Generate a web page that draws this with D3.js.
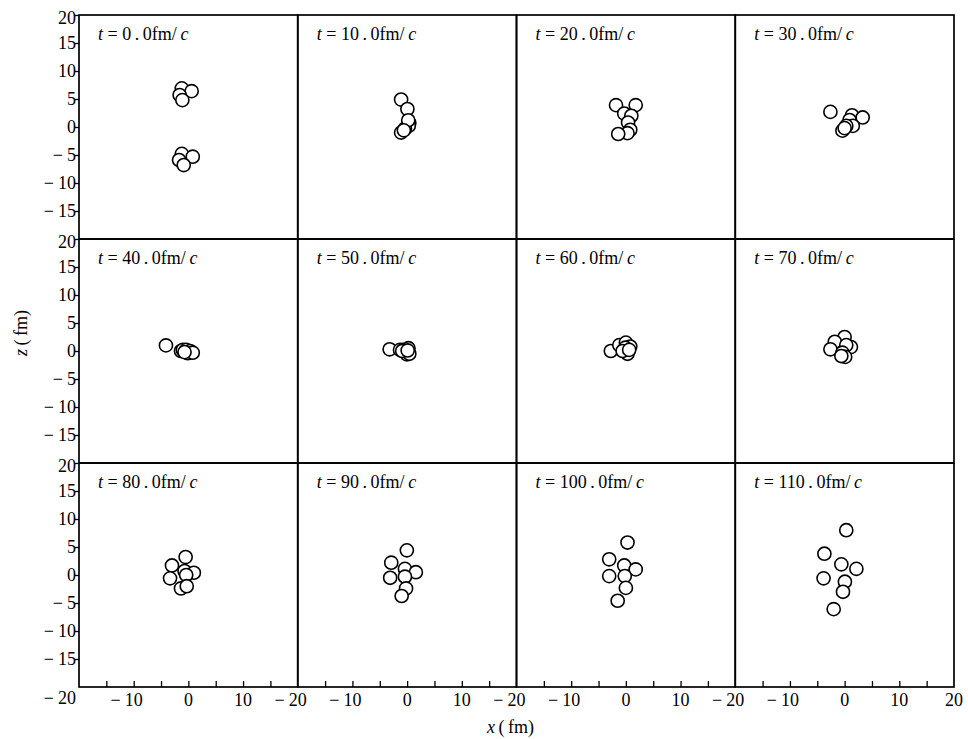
<!DOCTYPE html>
<html>
<head>
<meta charset="utf-8">
<script src="https://cdn.jsdelivr.net/npm/d3@7"></script>
<style>
  body { margin: 0; background: #fff; }
  svg text { font-family: "Liberation Serif", "Times New Roman", "DejaVu Serif", serif; fill: #000; }
</style>
</head>
<body>
<div id="chart"></div>
<script>
// tiempos de cada instantánea (fm/c)
const times = [0, 10, 20, 30, 40, 50, 60, 70, 80, 90, 100, 110];

// posiciones (x, z) en fm de los nucleones en cada instante
const snapshots = [
  [[-1.2, 6.9], [0.6, 6.4], [-1.6, 5.7], [-1.1, 4.8], [-1.2, -4.8], [0.8, -5.3], [-1.7, -5.9], [-0.85, -6.8]],
  [[-1.1, 4.9], [0.05, 3.2], [0.4, 0.7], [0.3, 0.2], [-0.4, -0.3], [-1.1, -1.0], [0.2, 1.2], [-0.6, -0.6]],
  [[-1.8, 3.9], [1.8, 3.9], [-0.3, 2.4], [1.0, 2.0], [0.4, 0.8], [0.8, -0.5], [0.3, -1.1], [-1.4, -1.25]],
  [[-2.6, 2.7], [1.35, 2.1], [3.3, 1.7], [0.9, 1.25], [1.5, 0.2], [0.3, 0.2], [-0.4, -0.65], [0.0, -0.2]],
  [[-4.1, 1.0], [-1.35, 0.0], [-1.0, 0.2], [-0.4, 0.2], [-0.1, -0.4], [0.3, 0.0], [0.8, -0.3], [-0.7, -0.2]],
  [[-3.2, 0.3], [-1.3, 0.2], [-0.7, 0.2], [0.25, 0.5], [-0.05, -0.6], [0.4, -0.5], [-0.9, 0.0], [0.1, 0.1]],
  [[-2.75, 0.0], [-1.2, 1.05], [0.0, 1.5], [0.8, 0.8], [-0.1, 0.6], [0.3, -0.5], [-0.6, 0.0], [0.6, 0.2]],
  [[0.0, 2.5], [-1.8, 1.65], [-2.6, 0.3], [1.15, 0.7], [0.3, 1.05], [-0.4, -0.3], [0.1, -1.05], [-0.6, -0.9]],
  [[-0.5, 3.2], [-3.0, 1.7], [-3.35, -0.6], [-0.7, 0.7], [1.0, 0.4], [-0.4, 0.0], [-1.35, -2.4], [-0.3, -2.0]],
  [[-0.05, 4.4], [-2.9, 2.2], [-3.1, -0.5], [-0.4, 1.1], [1.6, 0.5], [-0.4, -0.3], [-0.2, -2.4], [-1.0, -3.75]],
  [[0.3, 5.8], [-3.05, 2.8], [-3.05, -0.2], [-0.3, 1.7], [1.8, 1.0], [-0.2, -0.2], [0.0, -2.3], [-1.5, -4.6]],
  [[0.3, 8.0], [-3.7, 3.8], [-0.6, 1.9], [2.15, 1.1], [-3.85, -0.6], [0.05, -1.2], [-0.3, -3.0], [-2.0, -6.1]]
];

const yTickValues = [20, 15, 10, 5, 0, -5, -10, -15];
const xTickValues = [-15, -10, -5, 0, 5, 10, 15];
const xLabelValues = [-20, -10, 0, 10];

const width = 968, height = 739;
const margin = { left: 79, right: 14, top: 15, bottom: 52 };
const nCols = 4, nRows = 3;
const panelW = (width - margin.left - margin.right) / nCols;
const panelH = (height - margin.top - margin.bottom) / nRows;
const nucleonRadius = 1.2; // fm
const serif = '"Liberation Serif", "Times New Roman", "DejaVu Serif", serif';

const svg = d3.select("#chart").append("svg")
  .attr("width", width)
  .attr("height", height)
  .attr("font-family", serif)
  .style("font-family", serif);

const fmtAbs = v => String(Math.abs(v));

// etiqueta con el signo menos colgando a la izquierda de los dígitos
function addSignedLabel(g, x, y, v, anchor, size) {
  const t = g.append("text")
    .attr("x", x).attr("y", y)
    .attr("text-anchor", anchor)
    .attr("font-size", size)
    .text(fmtAbs(v));
  if (v < 0) {
    const len = t.node().getComputedTextLength();
    const left = anchor === "middle" ? x - len / 2 : (anchor === "end" ? x - len : x);
    g.append("text")
      .attr("x", left - 4).attr("y", y)
      .attr("text-anchor", "end")
      .attr("font-size", size)
      .text("\u2212");
  }
}

times.forEach((time, i) => {
  const col = i % nCols, row = Math.floor(i / nCols);
  const x0 = margin.left + col * panelW;
  const y0 = margin.top + row * panelH;

  const x = d3.scaleLinear().domain([-20, 20]).range([x0, x0 + panelW]);
  const z = d3.scaleLinear().domain([-20, 20]).range([y0 + panelH, y0]);

  const g = svg.append("g");

  g.selectAll("circle")
    .data(snapshots[i])
    .join("circle")
    .attr("cx", d => x(d[0]))
    .attr("cy", d => z(d[1]))
    .attr("r", x(nucleonRadius) - x(0))
    .attr("fill", "#fff")
    .attr("stroke", "#000")
    .attr("stroke-width", 1.6);

  g.append("rect")
    .attr("x", x0).attr("y", y0)
    .attr("width", panelW).attr("height", panelH)
    .attr("fill", "none")
    .attr("stroke", "#000")
    .attr("stroke-width", 1.7);

  const label = g.append("text")
    .attr("x", x0 + 19)
    .attr("y", y0 + 25)
    .attr("font-size", 18);
  label.append("tspan").attr("font-style", "italic").text("t");
  label.append("tspan").text(" = " + d3.format(".1f")(time).replace(".", "\u2009.\u2009") + "fm/\u2009");
  label.append("tspan").attr("font-style", "italic").text("c");

  // eje z solo en la primera columna
  if (col === 0) {
    const ay = g.append("g")
      .attr("transform", `translate(${x0},0)`)
      .call(d3.axisLeft(z).tickValues(yTickValues).tickSize(4).tickFormat(""));
    ay.select(".domain").remove();
    ay.selectAll("line").attr("stroke", "#000").attr("stroke-width", 1.3);
    yTickValues.forEach(v => {
      const yy = z(v) + (v === 20 ? 3 : 0) + 6;
      addSignedLabel(g, x0 - 3, yy, v, "end", 18);
    });
  }

  // eje x solo en la última fila
  if (row === nRows - 1) {
    const ax = g.append("g")
      .attr("transform", `translate(0,${y0 + panelH})`)
      .call(d3.axisBottom(x).tickValues(xTickValues).tickSize(-6).tickFormat(""));
    ax.select(".domain").remove();
    ax.selectAll("line").attr("stroke", "#000").attr("stroke-width", 1.3);
    const labels = xLabelValues.filter(v => !(col === 0 && v === -20));
    if (col === nCols - 1) labels.push(20);
    labels.forEach(v => addSignedLabel(g, x(v), y0 + panelH + 19, v, "middle", 18));
    if (col === 0) addSignedLabel(g, x0 - 3, y0 + panelH + 17, -20, "end", 18);
  }
});

// títulos de los ejes
const xt = svg.append("text")
  .attr("x", margin.left + (width - margin.left - margin.right) / 2 - 6)
  .attr("y", height - 6)
  .attr("text-anchor", "middle")
  .attr("font-size", 18);
xt.append("tspan").attr("font-style", "italic").text("x");
xt.append("tspan").text("\u2009(\u2009fm)");

const zt = svg.append("text")
  .attr("transform", `translate(27,333) rotate(-90)`)
  .attr("text-anchor", "middle")
  .attr("font-size", 18);
zt.append("tspan").attr("font-style", "italic").text("z");
zt.append("tspan").text("\u2009(\u2009fm)");
</script>
</body>
</html>
